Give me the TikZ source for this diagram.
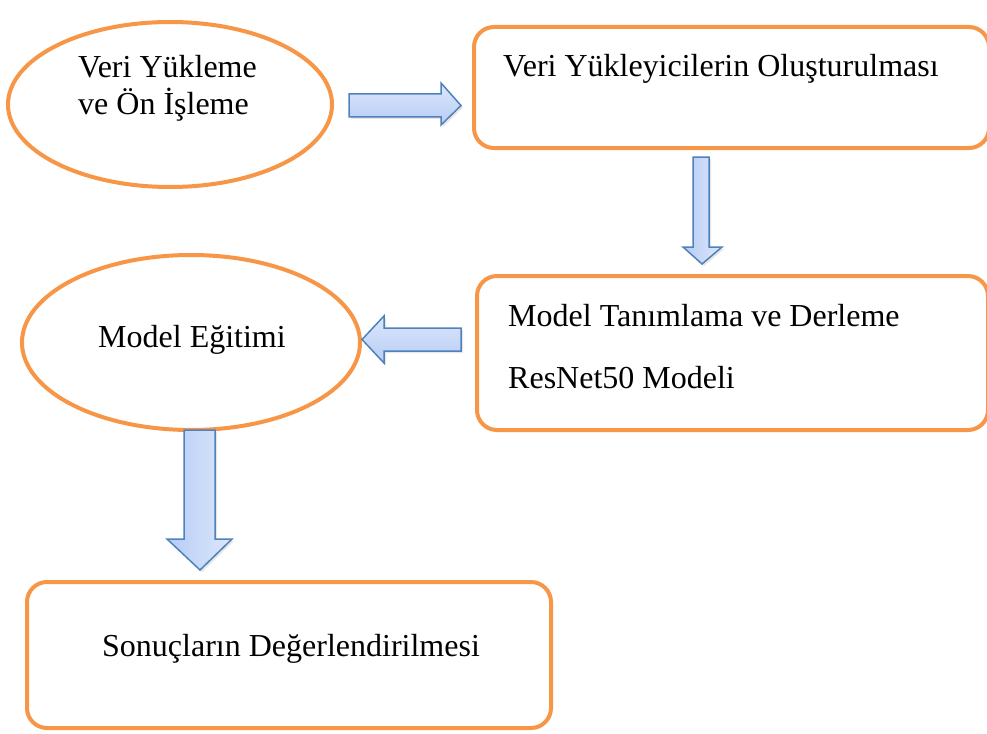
\documentclass[tikz,border=0pt]{standalone}
\usepackage{fontspec}
\setmainfont{Liberation Serif}
\usetikzlibrary{shapes.geometric,shadows}
\definecolor{orangeline}{HTML}{F79646}
\definecolor{arrowline}{HTML}{4F81BD}
\definecolor{arrowlight}{HTML}{DCE7FC}
\definecolor{arrowdark}{HTML}{B7CCF4}
\tikzset{
  ovalbox/.style={ellipse,draw=orangeline,line width=4pt,inner sep=0pt},
  roundbox/.style={rectangle,rounded corners=20pt,draw=orangeline,line width=4pt,inner sep=0pt},
  lbl/.style={font=\fontsize{32}{38}\selectfont,inner sep=0pt,anchor=base west},
  harrow/.style={draw=arrowline,line width=1.5pt,line join=miter,top color=arrowlight,bottom color=arrowdark,drop shadow={opacity=0.2,shadow xshift=2pt,shadow yshift=-2pt}},
  varrow/.style={draw=arrowline,line width=1.5pt,line join=miter,left color=arrowdark,right color=arrowlight,drop shadow={opacity=0.2,shadow xshift=2pt,shadow yshift=-2pt}}
}
\begin{document}
\begin{tikzpicture}[x=1pt,y=-1pt]
\useasboundingbox (0,0) rectangle (987,733);
% shapes
\node[ovalbox,minimum width=324pt,minimum height=165pt] (e1) at (170,104.5) {};
\node[roundbox,minimum width=515pt,minimum height=121pt] (b1) at (731.5,87.5) {};
\node[roundbox,minimum width=511pt,minimum height=154pt] (b2) at (732.5,353) {};
\node[ovalbox,minimum width=338pt,minimum height=175pt] (e2) at (191,342.5) {};
\node[roundbox,minimum width=524pt,minimum height=146pt] (b3) at (289,655) {};
% texts
\node[lbl] (t1a) at (78,78) {Veri Yükleme};
\node[lbl] (t1b) at (78,115) {ve Ön İşleme};
\node[lbl] (t2) at (503,77) {Veri Yükleyicilerin Oluşturulması};
\node[lbl] (t3a) at (508,326) {Model Tanımlama ve Derleme};
\node[lbl] (t3b) at (508,388) {ResNet50 Modeli};
\node[lbl] (t4) at (98,347) {Model Eğitimi};
\node[lbl] (t5) at (102,656) {Sonuçların Değerlendirilmesi};
% block arrows
\draw[harrow] (349,94) -- (441,94) -- (441,83) -- (461,105.5) -- (441,125) -- (441,117) -- (349,117) -- cycle;
\draw[varrow] (693,157) -- (709,157) -- (709,247) -- (722,247) -- (702,264) -- (683,247) -- (693,247) -- cycle;
\draw[harrow] (461,328) -- (384,328) -- (384,316) -- (362,339.5) -- (384,363) -- (384,351) -- (461,351) -- cycle;
\draw[varrow] (184,430) -- (215,430) -- (215,539) -- (232,539) -- (200,570) -- (167,539) -- (184,539) -- cycle;
\end{tikzpicture}
\end{document}
